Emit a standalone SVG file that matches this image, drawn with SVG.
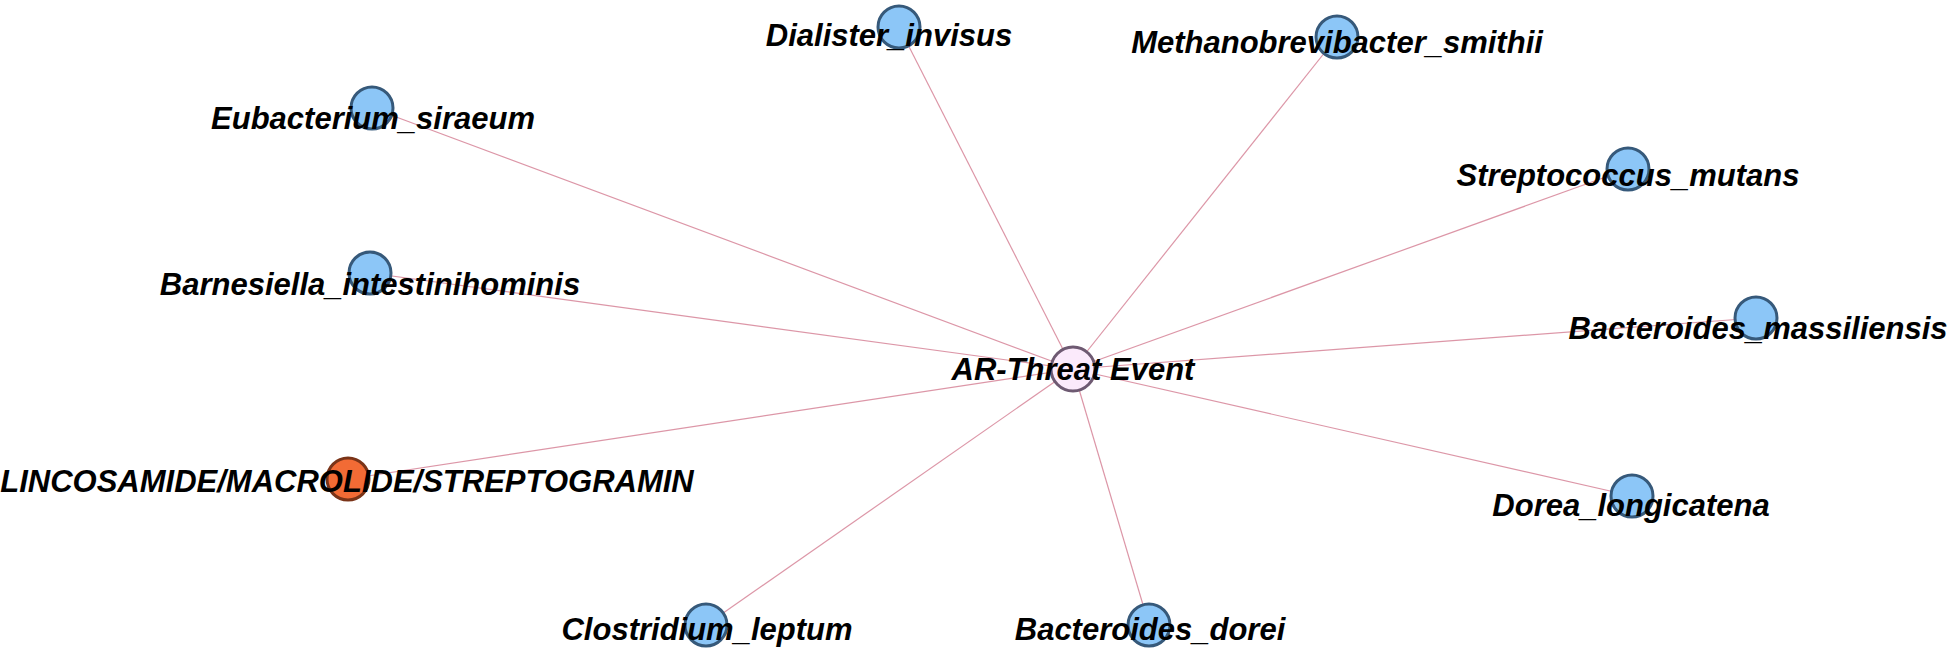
<svg xmlns="http://www.w3.org/2000/svg" width="1949" height="649" viewBox="0 0 1949 649">
<style>
.bg{fill:#ffffff}
.edge{stroke:#c4506c;stroke-width:1.2;stroke-opacity:0.6;fill:none}
.sp{fill:#8cc6f7;stroke:#36597a;stroke-width:3}
.ab{fill:#f26b35;stroke:#7a3418;stroke-width:3}
.ev{fill:#fbeafb;stroke:#6e5a72;stroke-width:3}
.lbl{font-family:"Liberation Sans",Arial,sans-serif;font-size:31px;font-weight:bold;font-style:italic;fill:#000;text-anchor:middle}
</style>
<rect class="bg" x="0" y="0" width="1949" height="649"/>
<g id="connectors">
<line class="edge" x1="1073" y1="369" x2="899" y2="27"/>
<line class="edge" x1="1073" y1="369" x2="1337" y2="37"/>
<line class="edge" x1="1073" y1="369" x2="372" y2="108"/>
<line class="edge" x1="1073" y1="369" x2="1628" y2="169"/>
<line class="edge" x1="1073" y1="369" x2="370" y2="273"/>
<line class="edge" x1="1073" y1="369" x2="1756" y2="318"/>
<line class="edge" x1="1073" y1="369" x2="348" y2="479"/>
<line class="edge" x1="1073" y1="369" x2="1632" y2="496"/>
<line class="edge" x1="1073" y1="369" x2="706" y2="625"/>
<line class="edge" x1="1073" y1="369" x2="1149" y2="625"/>
</g>
<g id="node-dialister"><circle class="sp" cx="899" cy="27" r="21"/><text class="lbl" x="889" y="46">Dialister_invisus</text></g>
<g id="node-methanobrevibacter"><circle class="sp" cx="1337" cy="37" r="21"/><text class="lbl" x="1337" y="53">Methanobrevibacter_smithii</text></g>
<g id="node-eubacterium"><circle class="sp" cx="372" cy="108" r="21"/><text class="lbl" x="373" y="129">Eubacterium_siraeum</text></g>
<g id="node-streptococcus"><circle class="sp" cx="1628" cy="169" r="21"/><text class="lbl" x="1628" y="186">Streptococcus_mutans</text></g>
<g id="node-barnesiella"><circle class="sp" cx="370" cy="273" r="21"/><text class="lbl" x="370" y="295">Barnesiella_intestinihominis</text></g>
<g id="node-bacteroides-massiliensis"><circle class="sp" cx="1756" cy="318" r="21"/><text class="lbl" x="1758" y="339">Bacteroides_massiliensis</text></g>
<g id="node-lincosamide"><circle class="ab" cx="348" cy="479" r="21"/><text class="lbl" x="347" y="492">LINCOSAMIDE/MACROLIDE/STREPTOGRAMIN</text></g>
<g id="node-dorea"><circle class="sp" cx="1632" cy="496" r="21"/><text class="lbl" x="1631" y="516">Dorea_longicatena</text></g>
<g id="node-clostridium"><circle class="sp" cx="706" cy="625" r="21"/><text class="lbl" x="707" y="640">Clostridium_leptum</text></g>
<g id="node-bacteroides-dorei"><circle class="sp" cx="1149" cy="625" r="21"/><text class="lbl" x="1150" y="640">Bacteroides_dorei</text></g>
<g id="node-ar-threat"><circle class="ev" cx="1073" cy="369" r="22"/><text class="lbl" x="1073" y="380">AR-Threat Event</text></g>
</svg>
